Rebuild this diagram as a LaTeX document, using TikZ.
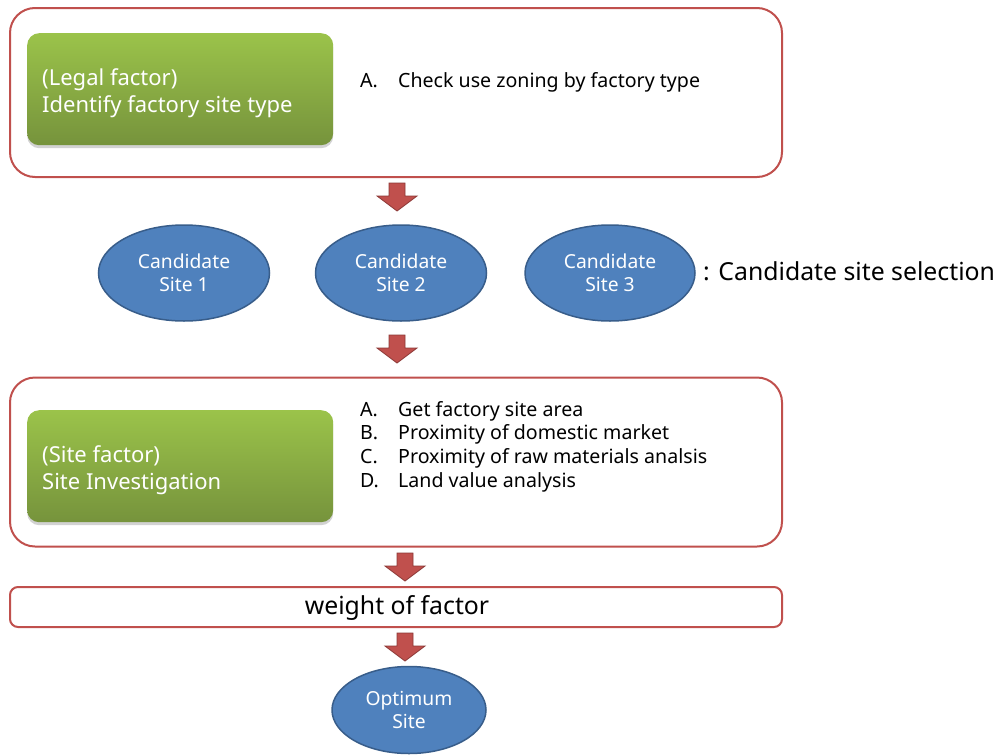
\documentclass[tikz,border=0pt]{standalone}
\usepackage{fontspec}
\setmainfont{Noto Sans}
\usetikzlibrary{shapes.geometric,shadows}
\definecolor{redline}{HTML}{C0504D}
\definecolor{arrowfill}{HTML}{C0504D}
\definecolor{arrowline}{HTML}{8C3836}
\definecolor{gtop}{HTML}{9BC34A}
\definecolor{gbot}{HTML}{76933C}
\definecolor{efill}{HTML}{4F81BD}
\definecolor{eline}{HTML}{385D8A}
\newcommand{\itemlbl}[1]{\makebox[38pt][l]{#1}}
\tikzset{
  redbox/.style={draw=redline, line width=2pt, fill=white, rounded corners=25pt},
  greenbox/.style={rounded corners=12pt, top color=gtop, bottom color=gbot,
    drop shadow={opacity=0.35, shadow xshift=0pt, shadow yshift=-3pt},
    anchor=north west, minimum width=306pt, inner sep=0pt},
  greentext/.style={anchor=west, text=white, font=\fontsize{22}{27}\selectfont, align=left, inner sep=0pt},
  site/.style={ellipse, draw=eline, line width=1.5pt, fill=efill, text=white,
    font=\fontsize{19.3}{23}\selectfont, align=center, inner sep=0pt},
  blockarr/.pic={\draw[fill=arrowfill, draw=arrowline, line width=0.8pt, line join=miter]
    (-8,0) -- (8,0) -- (8,13) -- (20,13) -- (0,28) -- (-20,13) -- (-8,13) -- cycle;},
  listtext/.style={font=\fontsize{19.6}{23.7}\selectfont, align=left, anchor=west, inner sep=0pt},
  bigtext/.style={font=\fontsize{24.8}{28}\selectfont, inner sep=0pt},
}
\begin{document}
\begin{tikzpicture}[x=1pt,y=-1pt]
\useasboundingbox (0,0) rectangle (1000,755);
% top box
\node[redbox, minimum width=772pt, minimum height=169pt] (top) at (396,92.5) {};
\node[greenbox, minimum height=112pt] (legal) at (27,33) {};
\node[greentext] (legaltxt) at (42,93) {(Legal factor)\\Identify factory site type};
\node[listtext] (list1) at (360,82) {\itemlbl{A.}Check use zoning by factory type};
% arrow 1
\pic (a1) at (397,183) {blockarr};
% candidates
\node[site, minimum width=171pt, minimum height=96pt] (c1) at (184,273) {Candidate\\Site 1};
\node[site, minimum width=171pt, minimum height=96pt] (c2) at (401,273) {Candidate\\Site 2};
\node[site, minimum width=170pt, minimum height=96pt] (c3) at (610,273) {Candidate\\Site 3};
\node[bigtext, anchor=west] (sel) at (703,271) {: Candidate site selection};
% arrow 2
\pic (a2) at (397,335) {blockarr};
% site box
\node[redbox, minimum width=772pt, minimum height=169pt] (mid) at (396,462) {};
\node[greenbox, minimum height=112pt] (sitef) at (27,410) {};
\node[greentext] (sitetxt) at (42,470) {(Site factor)\\Site Investigation};
\node[listtext] (list2) at (360,446.5) {\itemlbl{A.}Get factory site area\\
  \itemlbl{B.}Proximity of domestic market\\
  \itemlbl{C.}Proximity of raw materials analsis\\
  \itemlbl{D.}Land value analysis};
% arrow 3
\pic (a3) at (405,553) {blockarr};
% weight box
\node[redbox, rounded corners=8pt, minimum width=772pt, minimum height=40pt] (weight) at (396,607) {};
\node[bigtext] (wtxt) at (397,608) {weight of factor};
% arrow 4
\pic (a4) at (405,633) {blockarr};
\node[site, minimum width=154pt, minimum height=87pt] (opt) at (409,710) {Optimum\\Site};
\end{tikzpicture}
\end{document}
